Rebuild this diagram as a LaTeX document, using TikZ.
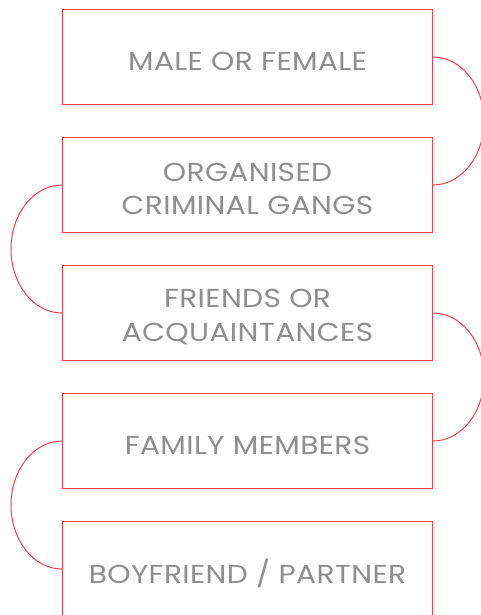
\documentclass[tikz,border=0pt]{standalone}
\usepackage{fontspec}
\setmainfont{Poppins}[FakeStretch=1.14, LetterSpace=1.5]
\definecolor{linered}{HTML}{EF3E4C}
\definecolor{labelgray}{HTML}{8E8E91}
\begin{document}
\begin{tikzpicture}[x=1pt,y=1pt,
  stepbox/.style={draw=linered, line width=1pt, minimum width=370pt, minimum height=95pt,
    inner sep=0pt},
  steptext/.style={align=center, text=labelgray, inner sep=0pt, yshift=-4pt,
    font=\fontsize{26}{33.3}\selectfont},
  link/.style={draw=linered, line width=1pt}]
\useasboundingbox (0,0) rectangle (481,-615);
\node[stepbox, label={[steptext]center:MALE OR FEMALE}] (b1) at (247.5,-57) {};
\node[stepbox, label={[steptext]center:ORGANISED\\CRIMINAL GANGS}] (b2) at (247.5,-185) {};
\node[stepbox, label={[steptext]center:FRIENDS OR\\ACQUAINTANCES}] (b3) at (247.5,-313) {};
\node[stepbox, label={[steptext]center:FAMILY MEMBERS}] (b4) at (247.5,-441) {};
\node[stepbox, label={[steptext]center:BOYFRIEND / PARTNER}] (b5) at (247.5,-569) {};
\draw[link] (b1.east) arc[start angle=90, end angle=-90, x radius=51, y radius=64];
\draw[link] (b2.west) arc[start angle=90, end angle=270, x radius=51, y radius=64];
\draw[link] (b3.east) arc[start angle=90, end angle=-90, x radius=51, y radius=64];
\draw[link] (b4.west) arc[start angle=90, end angle=270, x radius=51, y radius=64];
\end{tikzpicture}
\end{document}
